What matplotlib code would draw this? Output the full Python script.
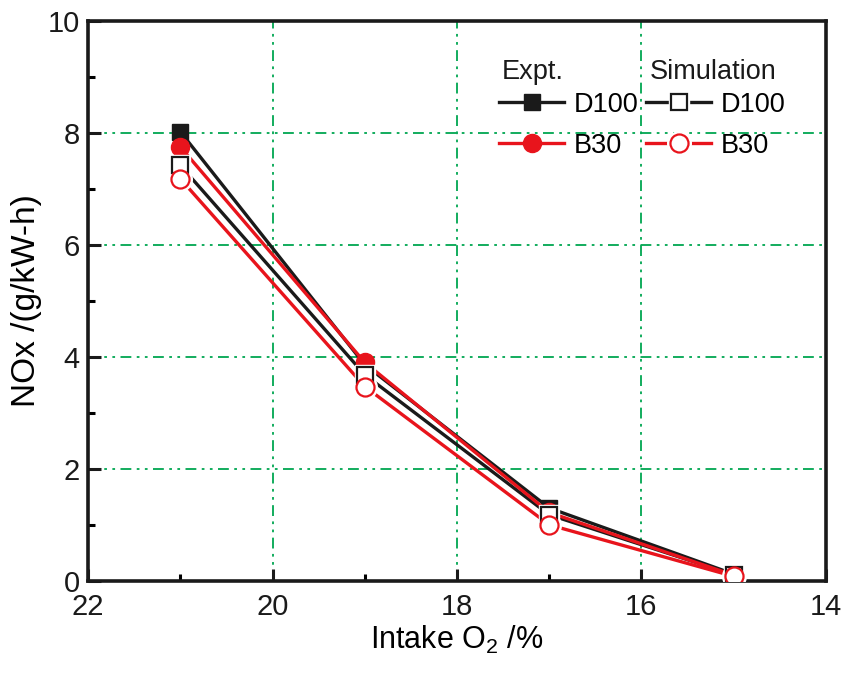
import numpy as np
import matplotlib
matplotlib.use('Agg')
import matplotlib.pyplot as plt
from matplotlib.ticker import MultipleLocator
from matplotlib.legend_handler import HandlerTuple

plt.rcParams.update({'font.family': 'Liberation Sans',
                     'mathtext.default': 'regular',
                     'font.size': 20})

# data
o2 = [21, 19, 17, 15]
d100_expt = [8.02, 3.86, 1.30, 0.12]
b30_expt = [7.75, 3.90, 1.22, 0.10]
d100_sim = [7.42, 3.68, 1.18, 0.11]
b30_sim = [7.18, 3.47, 1.00, 0.08]

black = '#1a1a1a'
red = '#e8141c'
green = '#00a651'

fig = plt.figure(figsize=(8.47, 6.73), dpi=100)
ax = fig.add_axes([0.104, 0.137, 0.871, 0.832])

lw = 2.4
l1, = ax.plot(o2, d100_expt, '-', color=black, lw=lw, marker='s', ms=11.5,
              mfc=black, mec=black, zorder=3)
l2, = ax.plot(o2, b30_expt, '-', color=red, lw=lw, marker='o', ms=13,
              mfc=red, mec=red, zorder=4)

# simulation: line, then a white halo, then the open marker
s1_line, = ax.plot(o2, d100_sim, '-', color=black, lw=lw, zorder=3)
s1_halo, = ax.plot(o2, d100_sim, ls='none', marker='s', ms=15, mfc='white',
                   mec='white', zorder=5)
s1_mark, = ax.plot(o2, d100_sim, ls='none', marker='s', ms=11.5, mfc='white',
                   mec=black, mew=1.6, zorder=6)
s2_line, = ax.plot(o2, b30_sim, '-', color=red, lw=lw, zorder=3)
s2_halo, = ax.plot(o2, b30_sim, ls='none', marker='o', ms=17, mfc='white',
                   mec='white', zorder=5)
s2_mark, = ax.plot(o2, b30_sim, ls='none', marker='o', ms=13, mfc='white',
                   mec=red, mew=1.6, zorder=6)

ax.set_xlim(22, 14)
ax.set_ylim(0, 10)
ax.xaxis.set_major_locator(MultipleLocator(2))
ax.xaxis.set_minor_locator(MultipleLocator(1))
ax.yaxis.set_major_locator(MultipleLocator(2))
ax.yaxis.set_minor_locator(MultipleLocator(1))
ax.tick_params(which='major', direction='in', length=9, width=2.2,
               labelsize=21, colors=black)
ax.tick_params(axis='x', pad=9)
ax.tick_params(axis='y', pad=6)
ax.tick_params(which='minor', direction='in', length=5, width=2.2)
ax.tick_params(top=False, right=False, which='both')
for s in ax.spines.values():
    s.set_linewidth(2.6)
    s.set_color(black)

ax.grid(True, which='major', color=green, lw=1.3,
        linestyle=(0, (6, 3, 1.5, 3, 1.5, 3)))
ax.set_axisbelow(True)

ax.set_xlabel('Intake O$_2$ /%', fontsize=22, labelpad=2)
ax.set_ylabel('NOx /(g/kW-h)', fontsize=24, labelpad=4)

handles = [l1, l2, (s1_line, s1_halo, s1_mark), (s2_line, s2_halo, s2_mark)]
labels = ['D100', 'B30', 'D100', 'B30']
ax.legend(handles, labels, ncol=2, loc='upper left',
          bbox_to_anchor=(0.557, 0.873), frameon=False, fontsize=19.5,
          handlelength=2.4, handletextpad=0.35, columnspacing=0.3,
          labelspacing=0.55, borderpad=0, borderaxespad=0,
          handler_map={tuple: HandlerTuple(ndivide=1)})
ax.text(0.561, 0.908, 'Expt.', transform=ax.transAxes, fontsize=19.5,
        va='center', ha='left', color=black)
ax.text(0.761, 0.908, 'Simulation', transform=ax.transAxes, fontsize=19.5,
        va='center', ha='left', color=black)

fig.savefig('out.png', dpi=100)
